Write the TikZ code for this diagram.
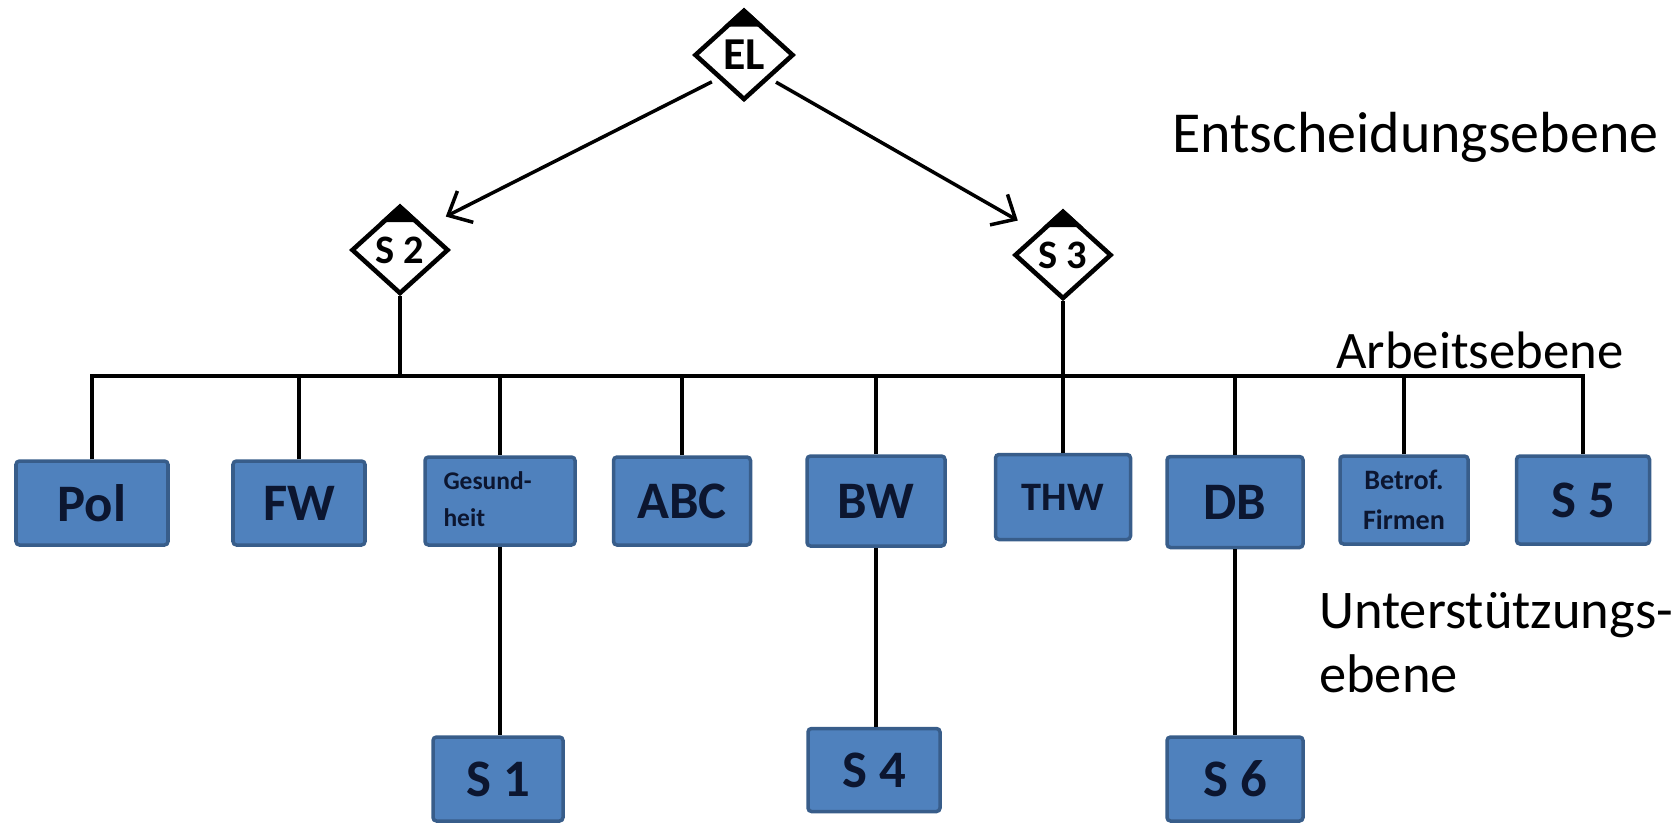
\documentclass[tikz,border=0pt]{standalone}
\usepackage{fontspec}
\setmainfont{Carlito}
\usetikzlibrary{shapes.geometric, arrows.meta, calc, positioning}

\definecolor{boxblue}{RGB}{79,129,189}
\definecolor{boxedge}{RGB}{56,93,138}
\definecolor{boxtext}{RGB}{12,22,48}

\begin{document}
\begin{tikzpicture}[x=0.02cm, y=-0.02cm,
    stab/.style={diamond, draw, line width=2.6pt, fill=white, inner sep=0pt,
        minimum width=1.94cm, minimum height=1.76cm, font=\fontsize{23}{25}\selectfont\bfseries},
    unit/.style={rectangle, draw=boxedge, fill=boxblue, line width=2pt, rounded corners=2pt,
        text=boxtext, font=\fontsize{30}{32}\selectfont\bfseries, align=center},
    boxsize/.style 2 args={minimum width=#1*0.02cm, minimum height=#2*0.02cm},
    small/.style={font=\fontsize{14.5}{21}\selectfont\bfseries},
    level/.style={anchor=base west, font=\fontsize{30}{36}\selectfont, align=left},
    link/.style={line width=2pt},
    order/.style={line width=2pt, -{Straight Barb[length=11pt, width=20pt, line width=2pt]},
        shorten <=4pt, shorten >=13pt}]
    \useasboundingbox (0,0) rectangle (1675,822);

    % Entscheidungsebene
    \node[stab, font=\fontsize{26}{28}\selectfont\bfseries, minimum width=1.98cm, minimum height=1.8cm] (EL) at (744,55) {EL};
    \node[stab] (S2) at (400,250) {S 2};
    \node[stab] (S3) at (1063,255) {S 3};
    \foreach \s in {EL,S2,S3}
        \fill (\s.north) -- ($(\s.north)!0.4!(\s.west)$) -- ($(\s.north)!0.4!(\s.east)$) -- cycle;

    \draw[order] (EL.south west) -- (S2.north east);
    \draw[order] (EL.south east) -- (S3.north west);

    % Arbeitsebene
    \node[unit, boxsize={152}{84}] (pol) at (92,503) {Pol};
    \node[unit, boxsize={132}{84}] (fw) at (299,503) {FW};
    \node[unit, boxsize={150}{88}] (ges) at (500,501) {};
    \node[small, text=boxtext, align=left, anchor=north west] (gestxt) at ([xshift=8pt, yshift=-6pt]ges.north west) {Gesund-\\heit};
    \node[unit, boxsize={137}{88}] (abc) at (682,501) {ABC};
    \node[unit, boxsize={138}{90}] (bw) at (876,501) {BW};
    \node[unit, font=\fontsize{23}{25}\selectfont\bfseries, boxsize={135}{85}] (thw) at (1063,497) {THW};
    \node[unit, boxsize={136}{91}] (db) at (1235,502) {DB};
    \node[unit, font=\fontsize{16}{23}\selectfont\bfseries, boxsize={128}{88}] (betr) at (1404,500) {Betrof.\\Firmen};
    \node[unit, boxsize={133}{88}] (s5) at (1583,500) {S 5};

    \coordinate (bus) at (800,376);
    \draw[link] (pol.north) |- (bus) -| (s5.north);
    \foreach \n in {fw,ges,abc,bw,db,betr}
        \draw[link] (\n.north) -- (\n.north |- bus);
    \draw[link] (S2.south) -- (S2.south |- bus);
    \draw[link] (S3.south) -- (thw.north);

    % Unterstuetzungsebene
    \node[unit, boxsize={130}{84}] (s1) at (498,779) {S 1};
    \node[unit, boxsize={132}{83}] (s4) at (874,770) {S 4};
    \node[unit, boxsize={136}{84}] (s6) at (1235,779) {S 6};

    \draw[link] (ges.south) -- (ges.south |- s1.north);
    \draw[link] (bw.south) -- (bw.south |- s4.north);
    \draw[link] (db.south) -- (db.south |- s6.north);

    \node[level, font=\fontsize{33}{36}\selectfont] (ent) at (1166,152) {Entscheidungsebene};
    \node[level] (arb) at (1330,368) {Arbeitsebene};
    \node[level, font=\fontsize{31}{36}\selectfont] (unt) at (1313,692) {Unterstützungs-\\ebene};
\end{tikzpicture}
\end{document}
